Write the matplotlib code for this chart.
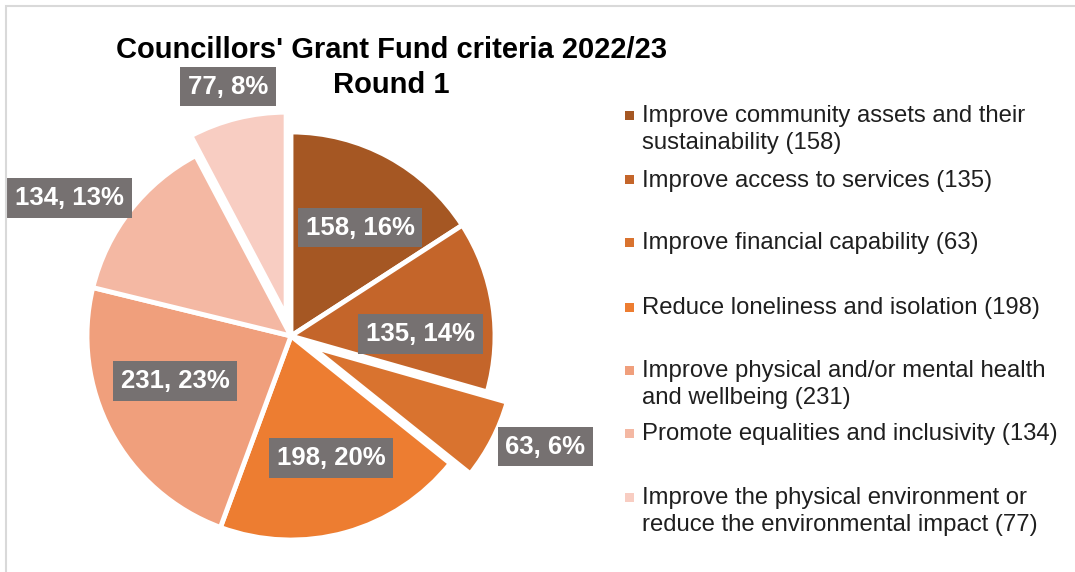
import matplotlib
matplotlib.use("Agg")
import matplotlib.pyplot as plt
from matplotlib.patches import Rectangle
import numpy as np

plt.rcParams['font.family'] = ['Liberation Sans', 'DejaVu Sans']

# ---- data ----
categories = [
    "Improve community assets and their\nsustainability (158)",
    "Improve access to services (135)",
    "Improve financial capability (63)",
    "Reduce loneliness and isolation (198)",
    "Improve physical and/or mental health\nand wellbeing (231)",
    "Promote equalities and inclusivity (134)",
    "Improve the physical environment or\nreduce the environmental impact (77)",
]
values = [158, 135, 63, 198, 231, 134, 77]
title_lines = ["Councillors' Grant Fund criteria 2022/23", "Round 1"]

# ---- style ----
colors = ["#A55723", "#C4652A", "#D9732F", "#ED7D31", "#F09F7C", "#F4B8A3", "#F8CDC2"]
explode = [0.0, 0.0, 0.11, 0.0, 0.0, 0.0, 0.1]
# label placement: (radius factor, angle offset deg from slice mid)
label_place = [(0.63, -4), (0.635, -7.6), (1.36, 3.8), (0.63, 2.7), (0.61, -6.8), (1.28, 6), (1.26, 0.2)]

W, H = 1075, 572
fig = plt.figure(figsize=(W / 100, H / 100), dpi=100)

# frame
fig.add_artist(Rectangle((6 / W, -0.01), 1.02, (H - 6) / H + 0.01, transform=fig.transFigure,
                         fill=False, edgecolor="#D9D9D9", linewidth=1.5))

cx, cy, R = 291, 336, 204
half = 250
ax = fig.add_axes([(cx - half) / W, (H - cy - half) / H, 2 * half / W, 2 * half / H])

wedges, _ = ax.pie(values, colors=colors, startangle=90, counterclock=False,
                   explode=explode, radius=1.0,
                   wedgeprops=dict(edgecolor="white", linewidth=3.5))
lim = half / R
ax.set_xlim(-lim, lim)
ax.set_ylim(-lim, lim)
ax.set_aspect("equal")
ax.axis("off")

total = sum(values)
for w, v, (rf, da) in zip(wedges, values, label_place):
    mid = np.deg2rad((w.theta1 + w.theta2) / 2 + da)
    x, y = rf * np.cos(mid), rf * np.sin(mid)
    pct = round(100 * v / total)
    ax.text(x, y, f"{v}, {pct}%", ha="center", va="center", color="white",
            fontsize=18.5, fontweight="bold",
            bbox=dict(boxstyle="square,pad=0.3", facecolor="#767171", edgecolor="none"))

fig.text(391 / W, 1 - 50 / H, title_lines[0], ha="center", va="center", fontsize=21,
         fontweight="bold", color="black")
fig.text(391 / W, 1 - 85 / H, title_lines[1], ha="center", va="center", fontsize=21,
         fontweight="bold", color="black")

# legend (manual)
entry_y = [115, 180, 242, 307, 370, 433, 497]
for lab, col, y in zip(categories, colors, entry_y):
    fig.add_artist(Rectangle(((629 - 4.5) / W, 1 - (y + 4.5) / H), 9 / W, 9 / H,
                             transform=fig.transFigure, facecolor=col, edgecolor="none"))
    fig.text(642 / W, 1 - (y - 10) / H, lab, ha="left", va="top", fontsize=17.2,
             color="#1f1f1f", linespacing=1.32)

fig.savefig("out.png", dpi=100)
